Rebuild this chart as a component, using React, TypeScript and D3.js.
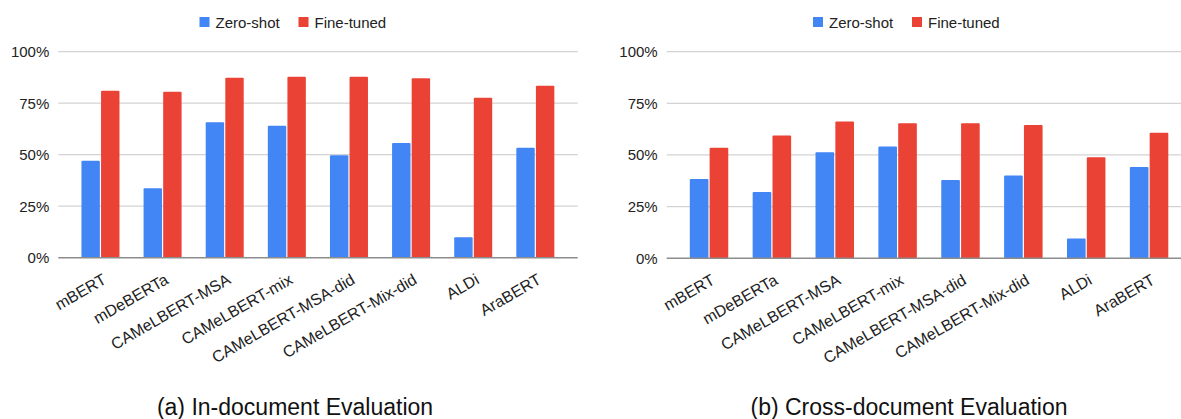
import React from "react";
import * as d3 from "d3";

const categories = [
  "mBERT",
  "mDeBERTa",
  "CAMeLBERT-MSA",
  "CAMeLBERT-mix",
  "CAMeLBERT-MSA-did",
  "CAMeLBERT-Mix-did",
  "ALDi",
  "AraBERT",
];
const seriesNames = ["Zero-shot", "Fine-tuned"];
const seriesColors = ["#4285F4", "#EA4335"];
const inDocZeroShot = [47.1, 33.7, 65.7, 64.1, 49.7, 55.7, 9.9, 53.4];
const inDocFineTuned = [81.1, 80.6, 87.4, 87.9, 87.9, 87.1, 77.7, 83.5];
const crossDocZeroShot = [38.3, 32.0, 51.3, 54.1, 37.9, 40.0, 9.5, 44.2];
const crossDocFineTuned = [53.5, 59.4, 66.2, 65.4, 65.4, 64.5, 48.9, 60.7];
const yTicks = [0, 25, 50, 75, 100];
const captions = ["(a) In-document Evaluation", "(b) Cross-document Evaluation"];

const FONT = "'Liberation Sans', Arial, Helvetica, sans-serif";

type PanelProps = {
  zero: number[];
  fine: number[];
  gridX0: number;
  gridX1: number;
  bandX0: number;
  bandX1: number;
  y0: number;
  y1: number;
  legendX: number;
  caption: string;
  captionX: number;
};

function Panel(p: PanelProps) {
  const x = d3
    .scaleBand<string>()
    .domain(categories)
    .range([p.bandX0, p.bandX1])
    .paddingInner(0.388)
    .paddingOuter(0.194);
  const xs = d3
    .scaleBand<string>()
    .domain(seriesNames)
    .range([0, x.bandwidth()])
    .paddingInner(0.06);
  const y = d3.scaleLinear().domain([0, 100]).range([p.y0, p.y1]);
  const values = [p.zero, p.fine];
  const fmt = (v: number) => `${v}%`;

  return (
    <g>
      {/* legend */}
      <g transform={`translate(${p.legendX},0)`}>
        <rect x={0} y={17} width={10} height={10} fill={seriesColors[0]} />
        <text x={16} y={27.5} fontSize={15} fill="#222" fontFamily={FONT}>
          {seriesNames[0]}
        </text>
        <rect x={99} y={17} width={10} height={10} fill={seriesColors[1]} />
        <text x={115} y={27.5} fontSize={15} fill="#222" fontFamily={FONT}>
          {seriesNames[1]}
        </text>
      </g>
      {/* gridlines */}
      {yTicks.map((t) => (
        <g key={t}>
          {t !== 0 && (
            <line
              x1={p.gridX0}
              x2={p.gridX1}
              y1={y(t)}
              y2={y(t)}
              stroke="#d3d3d3"
              strokeWidth={1.2}
            />
          )}
          <text
            x={p.gridX0 - 9}
            y={y(t) + 5.3}
            textAnchor="end"
            fontSize={15}
            fill="#222"
            fontFamily={FONT}
          >
            {fmt(t)}
          </text>
        </g>
      ))}
      {/* bars */}
      {categories.map((c, i) => (
        <g key={c} transform={`translate(${x(c)},0)`}>
          {seriesNames.map((s, j) => (
            <rect
              key={s}
              x={xs(s)}
              y={y(values[j][i])}
              width={xs.bandwidth()}
              height={p.y0 - y(values[j][i])}
              fill={seriesColors[j]}
              rx={1}
            />
          ))}
        </g>
      ))}
      {/* zero line */}
      <line
        x1={p.gridX0}
        x2={p.gridX1}
        y1={y(0)}
        y2={y(0)}
        stroke="#8c8c8c"
        strokeWidth={1.6}
      />
      {/* category labels */}
      {categories.map((c) => {
        const cx = (x(c) as number) + x.bandwidth() / 2 + 7;
        const cy = p.y0 + 25;
        return (
          <text
            key={c}
            transform={`translate(${cx},${cy}) rotate(-30)`}
            textAnchor="end"
            fontSize={16}
            fill="#222"
            fontFamily={FONT}
          >
            {c}
          </text>
        );
      })}
      <text
        x={p.captionX}
        y={415}
        textAnchor="middle"
        fontSize={23}
        fill="#111"
        fontFamily={FONT}
      >
        {p.caption}
      </text>
    </g>
  );
}

export default function App() {
  return (
    <svg
      width={1181}
      height={419}
      style={{ position: "absolute", left: 0, top: 0, background: "#fff" }}
    >
      <rect width={1181} height={419} fill="#fff" />
      <Panel
        zero={inDocZeroShot}
        fine={inDocFineTuned}
        gridX0={58.3}
        gridX1={577.7}
        bandX0={69.4}
        bandX1={566.4}
        y0={257.7}
        y1={51.7}
        legendX={199.5}
        caption={captions[0]}
        captionX={295}
      />
      <Panel
        zero={crossDocZeroShot}
        fine={crossDocFineTuned}
        gridX0={666.7}
        gridX1={1190}
        bandX0={677.6}
        bandX1={1180.5}
        y0={258.2}
        y1={51.7}
        legendX={813}
        caption={captions[1]}
        captionX={909}
      />
    </svg>
  );
}
